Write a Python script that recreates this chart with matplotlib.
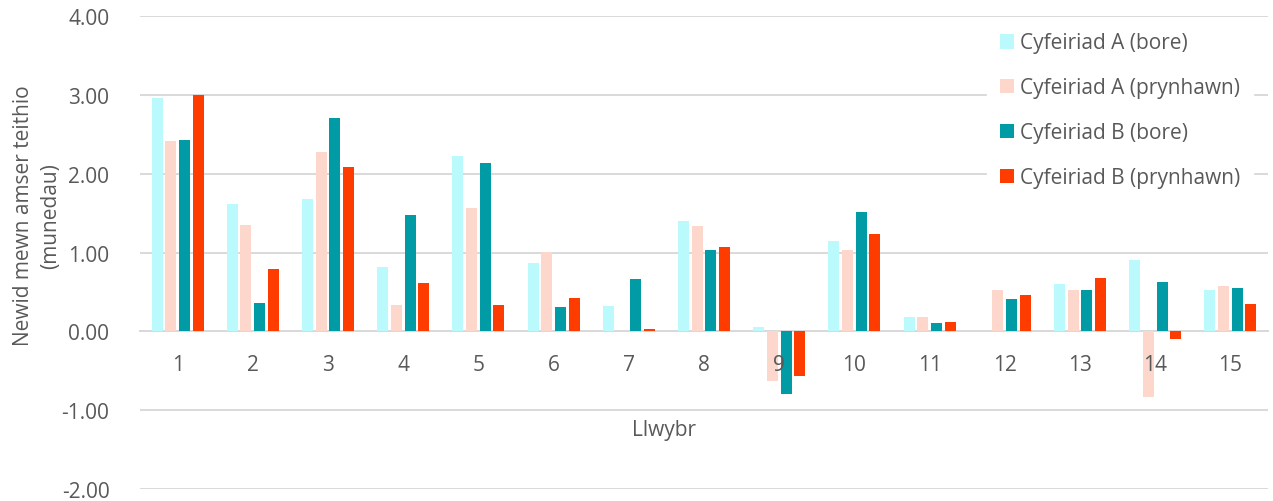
import numpy as np
import matplotlib
matplotlib.use("Agg")
import matplotlib.pyplot as plt

plt.rcParams["font.family"] = ["Open Sans", "DejaVu Sans"]
plt.rcParams["axes.unicode_minus"] = False

# route numbers
routes = [str(i) for i in range(1, 16)]

# values (minutes)
a_bore = [2.96, 1.62, 1.68, 0.81, 2.22, 0.87, 0.32, 1.40, 0.05, 1.14, 0.18, 0.00, 0.60, 0.91, 0.53]
a_pryn = [2.42, 1.35, 2.28, 0.34, 1.57, 1.01, 0.00, 1.34, -0.63, 1.03, 0.18, 0.53, 0.52, -0.83, 0.57]
b_bore = [2.43, 0.36, 2.71, 1.47, 2.14, 0.31, 0.67, 1.03, -0.80, 1.52, 0.11, 0.41, 0.53, 0.63, 0.55]
b_pryn = [3.00, 0.79, 2.08, 0.61, 0.33, 0.42, 0.03, 1.07, -0.57, 1.23, 0.12, 0.46, 0.68, -0.10, 0.35]

series = [
    ("Cyfeiriad A (bore)", a_bore, "#BAF9FC"),
    ("Cyfeiriad A (prynhawn)", a_pryn, "#FDD7CC"),
    ("Cyfeiriad B (bore)", b_bore, "#009BA5"),
    ("Cyfeiriad B (prynhawn)", b_pryn, "#FF3C00"),
]

text_col = "#595959"
grid_col = "#D9D9D9"

fig = plt.figure(figsize=(12.73, 5.02), dpi=100)
ax = fig.add_axes([140 / 1273, 12 / 502, (1268 - 140) / 1273, (490 - 17) / 502])

x = np.arange(len(routes))
step = 0.182
width = 0.146
for k, (name, vals, col) in enumerate(series):
    ax.bar(x + (k - 1.5) * step, vals, width, color=col, label=name, zorder=3)

ax.set_xlim(-0.5, len(routes) - 0.5)
ax.set_ylim(-2, 4)
ax.set_yticks(np.arange(-2, 4.01, 1))
ax.set_yticklabels([f"{v:.2f}" for v in np.arange(-2, 4.01, 1)])
ax.yaxis.grid(True, color=grid_col, linewidth=1.4, zorder=0)
ax.set_axisbelow(True)

for s in ["top", "right", "left"]:
    ax.spines[s].set_visible(False)
ax.spines["bottom"].set_position(("data", 0))
ax.spines["bottom"].set_color(grid_col)
ax.spines["bottom"].set_linewidth(1.4)
ax.spines["bottom"].set_zorder(2)

ax.set_xticks(x)
ax.set_xticklabels(routes)
ax.tick_params(axis="x", length=0, pad=16, labelsize=15, labelcolor=text_col)
ax.tick_params(axis="y", length=0, pad=22, labelsize=15, labelcolor=text_col)
# route numbers sit on top of the bars, as in the original
ax.xaxis.set_zorder(4)

fig.text(37 / 1273, 1 - 216 / 502, "Newid mewn amser teithio\n(munedau)", rotation=90,
         ha="center", va="center", fontsize=15, color=text_col, linespacing=1.4)
fig.text(664 / 1273, 1 - 431 / 502, "Llwybr", ha="center", va="center",
         fontsize=15, color=text_col)

leg = ax.legend(loc="upper left", bbox_to_anchor=(987 / 1273, 1 - 21 / 502),
                bbox_transform=fig.transFigure, frameon=True, fontsize=15,
                handlelength=0.7, handleheight=0.7, handletextpad=0.3,
                labelspacing=1.15, borderpad=0.6, borderaxespad=0)
leg.get_frame().set_facecolor("white")
leg.get_frame().set_edgecolor("white")
leg.get_frame().set_alpha(1)
leg.get_frame().set_boxstyle("square", pad=0)
for t in leg.get_texts():
    t.set_color(text_col)

fig.savefig("out.png", dpi=100)
